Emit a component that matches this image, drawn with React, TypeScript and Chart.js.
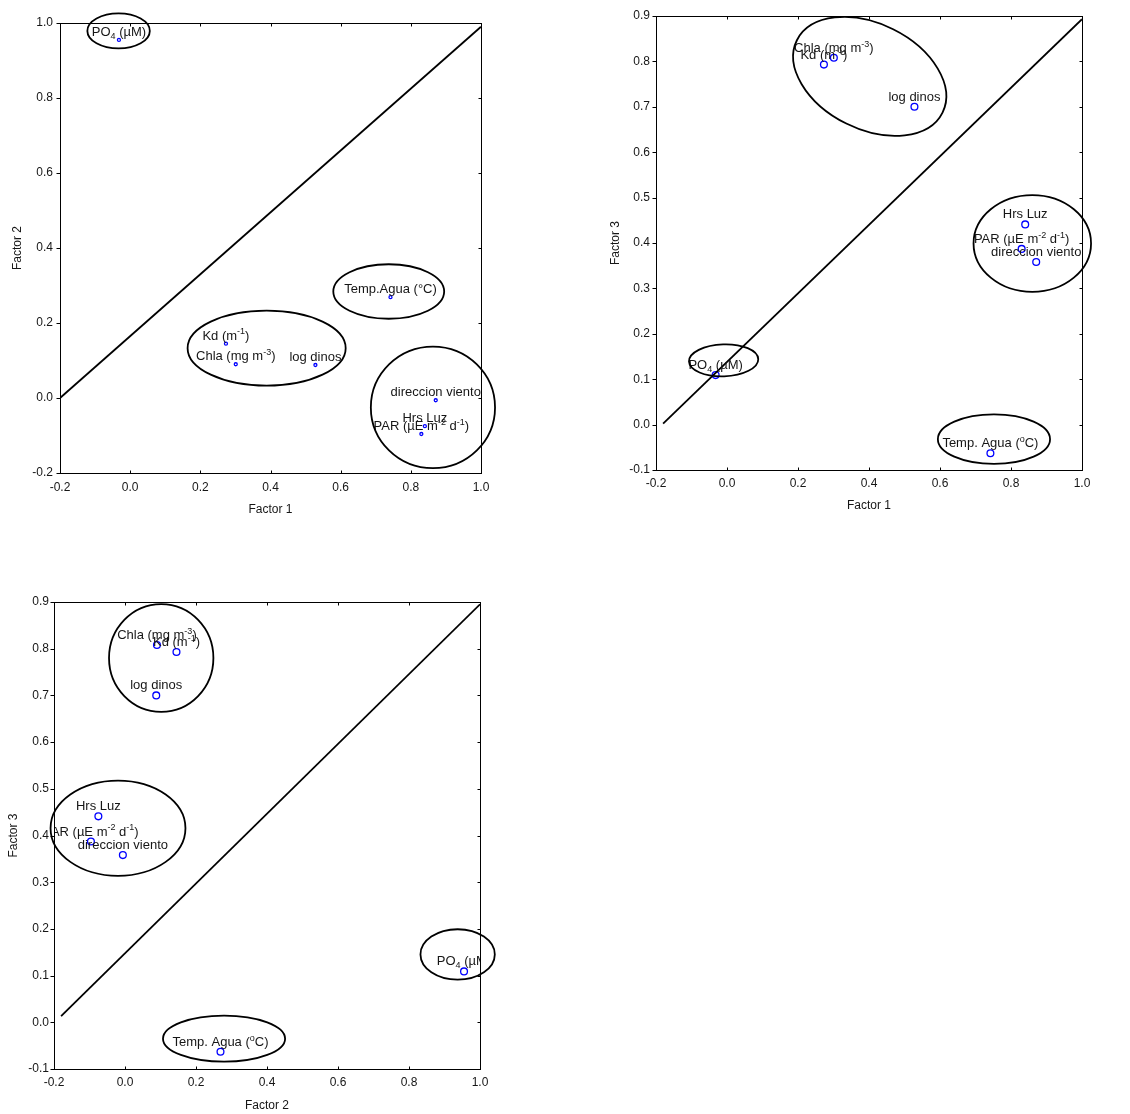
import React, { useEffect, useRef } from 'react';
import { Chart, registerables } from 'chart.js';

Chart.register(...registerables);

// ---------- data ----------
const LABELS_F12 = [
  'PO_{4} (µM)',
  'Kd (m^{-1})',
  'Chla (mg m^{-3})',
  'log dinos',
  'Temp.Agua (°C)',
  'direccion viento',
  'Hrs Luz',
  'PAR (µE m^{-2} d^{-1})',
];
const LABELS_F3 = [
  'PO_{4} (µM)',
  'Kd (m^{-1})',
  'Chla (mg m^{-3})',
  'log dinos',
  'Temp. Agua (^{o}C)',
  'direccion viento',
  'Hrs Luz',
  'PAR (µE m^{-2} d^{-1})',
];
const FACTOR1 = [-0.032, 0.273, 0.301, 0.528, 0.742, 0.871, 0.84, 0.83];
const FACTOR2 = [0.955, 0.145, 0.09, 0.088, 0.269, -0.006, -0.075, -0.096];
const FACTOR3 = [0.109, 0.793, 0.808, 0.7, -0.063, 0.358, 0.441, 0.387];

const X_TICKS = [-0.2, 0.0, 0.2, 0.4, 0.6, 0.8, 1.0];
const Y_TICKS_F2 = [-0.2, 0.0, 0.2, 0.4, 0.6, 0.8, 1.0];
const Y_TICKS_F3 = [-0.1, 0.0, 0.1, 0.2, 0.3, 0.4, 0.5, 0.6, 0.7, 0.8, 0.9];

// diagonal reference lines (x, y in data units)
const DIAG_12_X = [-0.2, 1.0];
const DIAG_12_Y = [0.0, 0.99];
const DIAG_13_X = [-0.18, 1.0];
const DIAG_13_Y = [0.002, 0.893];
const DIAG_23_X = [-0.18, 1.0];
const DIAG_23_Y = [0.013, 0.895];

// grouping ellipses (center, semi-axes in data units, rotation in degrees)
const ELLIPSES_12 = [
  { cx: -0.033, cy: 0.979, rx: 0.089, ry: 0.0466, rot: 0 },
  { cx: 0.389, cy: 0.133, rx: 0.2253, ry: 0.0999, rot: 0 },
  { cx: 0.737, cy: 0.284, rx: 0.158, ry: 0.0727, rot: 0 },
  { cx: 0.863, cy: -0.025, rx: 0.177, ry: 0.162, rot: 0 },
];
const ELLIPSES_13 = [
  { cx: 0.402, cy: 0.767, rx: 0.229, ry: 0.116, rot: 26.4 },
  { cx: 0.86, cy: 0.399, rx: 0.1655, ry: 0.1065, rot: 0 },
  { cx: -0.0095, cy: 0.1416, rx: 0.0976, ry: 0.0352, rot: -2 },
  { cx: 0.752, cy: -0.032, rx: 0.158, ry: 0.0544, rot: 0 },
];
const ELLIPSES_23 = [
  { cx: 0.102, cy: 0.78, rx: 0.147, ry: 0.1154, rot: 0 },
  { cx: -0.0197, cy: 0.4156, rx: 0.19, ry: 0.1019, rot: 0 },
  { cx: 0.937, cy: 0.1453, rx: 0.1047, ry: 0.054, rot: 0 },
  { cx: 0.279, cy: -0.035, rx: 0.172, ry: 0.0493, rot: 0 },
];

const FONT = '"Liberation Sans", Arial, sans-serif';

type Seg = { t: string; k: 'n' | 'sup' | 'sub' };
function parseRich(s: string): Seg[] {
  const out: Seg[] = [];
  const re = /(\^\{[^}]*\}|_\{[^}]*\})/g;
  let last = 0;
  let m: RegExpExecArray | null;
  while ((m = re.exec(s))) {
    if (m.index > last) out.push({ t: s.slice(last, m.index), k: 'n' });
    const inner = m[0].slice(2, -1);
    out.push({ t: inner, k: m[0][0] === '^' ? 'sup' : 'sub' });
    last = m.index + m[0].length;
  }
  if (last < s.length) out.push({ t: s.slice(last), k: 'n' });
  return out;
}

function drawRich(ctx: CanvasRenderingContext2D, s: string, cx: number, base: number, size: number) {
  const segs = parseRich(s);
  const small = Math.round(size * 0.68);
  const fonts = segs.map((g) => `${g.k === 'n' ? size : small}px ${FONT}`);
  const widths = segs.map((g, i) => {
    ctx.font = fonts[i];
    return ctx.measureText(g.t).width;
  });
  const total = widths.reduce((a, b) => a + b, 0);
  let x = cx - total / 2;
  segs.forEach((g, i) => {
    ctx.font = fonts[i];
    const dy = g.k === 'sup' ? -size * 0.4 : g.k === 'sub' ? size * 0.22 : 0;
    ctx.fillText(g.t, x, base + dy);
    x += widths[i];
  });
}

type PanelProps = {
  pos: { left: number; top: number; w: number; h: number };
  pad: { left: number; right: number; top: number; bottom: number };
  yWidth: number;
  xHeight: number;
  yTitlePad: number;
  xTitlePad: number;
  yTickPad: number;
  xTickPad: number;
  xs: number[];
  ys: number[];
  labels: string[];
  xTitle: string;
  yTitle: string;
  yTicks: number[];
  xTicks: number[];
  diagX: number[];
  diagY: number[];
  ellipses: { cx: number; cy: number; rx: number; ry: number; rot: number }[];
  pointRadius: number;
  labelOffset: number;
};

function Panel(p: PanelProps) {
  const ref = useRef<HTMLCanvasElement | null>(null);
  useEffect(() => {
    const canvas = ref.current;
    if (!canvas) return;
    const fmt = (v: any) => {
      const n = Number(v);
      return Math.abs(n) < 1e-9 ? '0.0' : n.toFixed(1);
    };
    const yStep = p.yTicks[1] - p.yTicks[0];
    const xStep = p.xTicks[1] - p.xTicks[0];
    const decor = {
      id: 'decor',
      afterDatasetsDraw(chart: any) {
        const { ctx, chartArea: a } = chart;
        const xs = chart.scales.x;
        const ys = chart.scales.y;
        // point labels (clipped to plot area)
        ctx.save();
        ctx.beginPath();
        ctx.rect(a.left, a.top, a.right - a.left, a.bottom - a.top);
        ctx.clip();
        ctx.fillStyle = '#161616';
        ctx.textBaseline = 'alphabetic';
        ctx.textAlign = 'left';
        p.labels.forEach((t, i) => {
          const px = xs.getPixelForValue(p.xs[i]);
          const py = ys.getPixelForValue(p.ys[i]);
          drawRich(ctx, t, px, py - p.labelOffset, 13);
        });
        ctx.restore();

        // ellipses (not clipped)
        ctx.save();
        ctx.strokeStyle = '#000';
        ctx.lineWidth = 1.8;
        p.ellipses.forEach((e) => {
          const cx = xs.getPixelForValue(e.cx);
          const cy = ys.getPixelForValue(e.cy);
          const rx = Math.abs(xs.getPixelForValue(e.cx + e.rx) - cx);
          const ry = Math.abs(ys.getPixelForValue(e.cy + e.ry) - cy);
          ctx.beginPath();
          ctx.ellipse(cx, cy, rx, ry, (e.rot * Math.PI) / 180, 0, Math.PI * 2);
          ctx.stroke();
        });
        ctx.restore();

        // frame + tick marks
        ctx.save();
        ctx.strokeStyle = '#000';
        ctx.lineWidth = 1;
        const L = Math.round(a.left) + 0.5;
        const R = Math.round(a.right) + 0.5;
        const T = Math.round(a.top) + 0.5;
        const B = Math.round(a.bottom) + 0.5;
        ctx.strokeRect(L, T, R - L, B - T);
        ctx.beginPath();
        xs.ticks.forEach((t: any) => {
          const px = Math.round(xs.getPixelForValue(t.value)) + 0.5;
          ctx.moveTo(px, B);
          ctx.lineTo(px, B - 3);
          ctx.moveTo(px, T);
          ctx.lineTo(px, T + 3);
        });
        ys.ticks.forEach((t: any) => {
          const py = Math.round(ys.getPixelForValue(t.value)) + 0.5;
          ctx.moveTo(L - 4, py);
          ctx.lineTo(L, py);
          ctx.moveTo(R, py);
          ctx.lineTo(R - 3, py);
        });
        ctx.stroke();
        ctx.restore();
      },
    };

    const chart = new Chart(canvas, {
      type: 'scatter',
      data: {
        datasets: [
          {
            label: 'diag',
            data: p.diagX.map((x, i) => ({ x, y: p.diagY[i] })),
            showLine: true,
            pointRadius: 0,
            borderColor: '#000',
            borderWidth: 1.8,
            backgroundColor: 'transparent',
          } as any,
          {
            label: 'loadings',
            data: p.xs.map((x, i) => ({ x, y: p.ys[i] })),
            pointRadius: p.pointRadius,
            pointBorderColor: '#0000ff',
            pointBackgroundColor: 'rgba(0,0,0,0)',
            pointBorderWidth: 1.3,
            showLine: false,
          } as any,
        ],
      },
      options: {
        responsive: false,
        animation: false,
        devicePixelRatio: 1,
        layout: { padding: p.pad },
        plugins: { legend: { display: false }, tooltip: { enabled: false }, title: { display: false } },
        scales: {
          x: {
            type: 'linear',
            min: p.xTicks[0],
            max: p.xTicks[p.xTicks.length - 1],
            grid: { display: false, drawTicks: false },
            border: { display: false },
            ticks: {
              stepSize: xStep,
              padding: p.xTickPad,
              color: '#161616',
              font: { family: FONT, size: 12 },
              callback: fmt,
              maxRotation: 0,
              autoSkip: false,
            },
            title: {
              display: true,
              text: p.xTitle,
              color: '#161616',
              font: { family: FONT, size: 12 },
              padding: { top: 0, bottom: p.xTitlePad },
            },
            afterFit: (s: any) => {
              s.height = p.xHeight;
            },
          },
          y: {
            type: 'linear',
            min: p.yTicks[0],
            max: p.yTicks[p.yTicks.length - 1],
            grid: { display: false, drawTicks: false },
            border: { display: false },
            ticks: {
              stepSize: yStep,
              padding: p.yTickPad,
              color: '#161616',
              font: { family: FONT, size: 12 },
              callback: fmt,
              autoSkip: false,
            },
            title: {
              display: true,
              text: p.yTitle,
              color: '#161616',
              font: { family: FONT, size: 12 },
              padding: { top: p.yTitlePad, bottom: 0 },
            },
            afterFit: (s: any) => {
              s.width = p.yWidth;
            },
          },
        },
      } as any,
      plugins: [decor as any],
    });
    return () => chart.destroy();
  }, []);

  return (
    <canvas
      ref={ref}
      width={p.pos.w}
      height={p.pos.h}
      style={{
        position: 'absolute',
        left: p.pos.left,
        top: p.pos.top,
        width: p.pos.w,
        height: p.pos.h,
      }}
    />
  );
}

export default function App() {
  return (
    <div style={{ position: 'absolute', left: 0, top: 0, width: 1130, height: 1114, background: '#fff', overflow: 'hidden' }}>
      <Panel
        pos={{ left: 0, top: 0, w: 560, h: 540 }}
        pad={{ left: 0, right: 79, top: 23, bottom: 0 }}
        yWidth={60}
        xHeight={67}
        yTitlePad={10}
        xTitlePad={23}
        yTickPad={7}
        xTickPad={7}
        xs={FACTOR1}
        ys={FACTOR2}
        labels={LABELS_F12}
        xTitle="Factor 1"
        yTitle="Factor 2"
        xTicks={X_TICKS}
        yTicks={Y_TICKS_F2}
        diagX={DIAG_12_X}
        diagY={DIAG_12_Y}
        ellipses={ELLIPSES_12}
        pointRadius={1.5}
        labelOffset={4}
      />
      <Panel
        pos={{ left: 570, top: 0, w: 560, h: 540 }}
        pad={{ left: 26, right: 48, top: 16, bottom: 0 }}
        yWidth={60}
        xHeight={70}
        yTitlePad={12}
        xTitlePad={27}
        yTickPad={6}
        xTickPad={6}
        xs={FACTOR1}
        ys={FACTOR3}
        labels={LABELS_F3}
        xTitle="Factor 1"
        yTitle="Factor 3"
        xTicks={X_TICKS}
        yTicks={Y_TICKS_F3}
        diagX={DIAG_13_X}
        diagY={DIAG_13_Y}
        ellipses={ELLIPSES_13}
        pointRadius={3.4}
        labelOffset={6}
      />
      <Panel
        pos={{ left: 0, top: 560, w: 560, h: 554 }}
        pad={{ left: 0, right: 80, top: 42, bottom: 0 }}
        yWidth={54}
        xHeight={45}
        yTitlePad={6}
        xTitlePad={1}
        yTickPad={5}
        xTickPad={6}
        xs={FACTOR2}
        ys={FACTOR3}
        labels={LABELS_F3}
        xTitle="Factor 2"
        yTitle="Factor 3"
        xTicks={X_TICKS}
        yTicks={Y_TICKS_F3}
        diagX={DIAG_23_X}
        diagY={DIAG_23_Y}
        ellipses={ELLIPSES_23}
        pointRadius={3.4}
        labelOffset={6}
      />
    </div>
  );
}
